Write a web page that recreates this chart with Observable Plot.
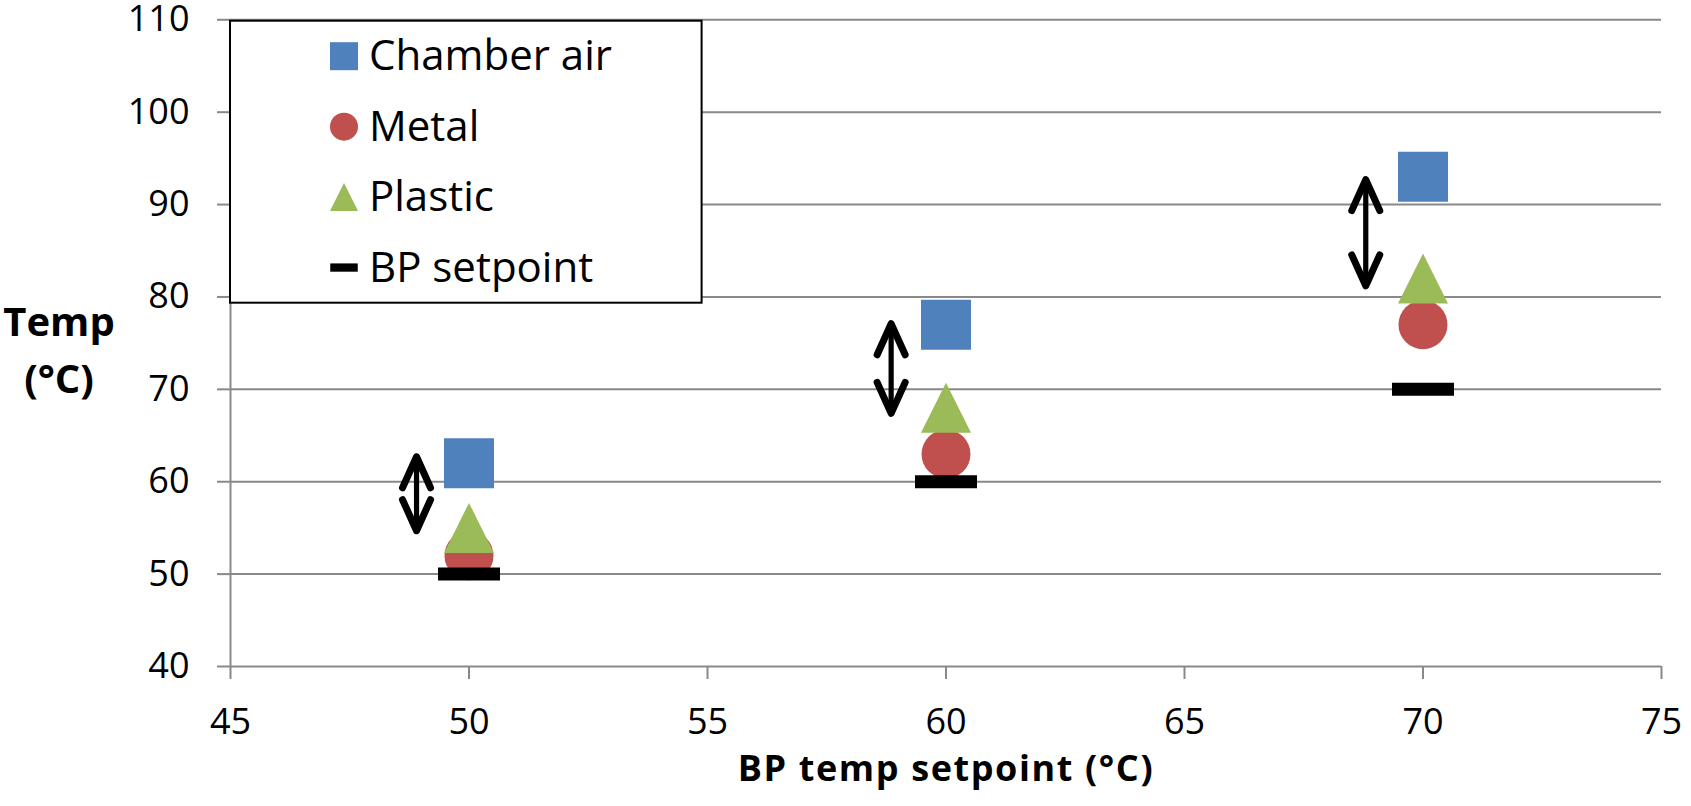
<!DOCTYPE html>
<html><head><meta charset="utf-8">
<script src="https://cdn.jsdelivr.net/npm/d3@7"></script>
<script src="https://cdn.jsdelivr.net/npm/@observablehq/plot@0.6"></script>
<style>
html,body{margin:0;padding:0;background:#fff;}
#wrap{position:relative;width:1691px;height:806px;}
#wrap svg{display:block;}
</style></head><body><div id="wrap"></div>
<script>
// ---- data ----
const setpoints = [50, 60, 70];
const chamberAir = [62, 77, 93];
const metal = [52, 63, 77];
const plastic = [55, 68, 82];
const bpSetpoint = [50, 60, 70];
const arrowX = [48.9, 58.85, 68.8];
const arrowTop = [62.7, 77.1, 92.7];
const arrowBottom = [54.7, 67.4, 81.2];
const xTicks = [45, 50, 55, 60, 65, 70, 75];
const yTicks = [40, 50, 60, 70, 80, 90, 100, 110];
const seriesNames = ["Chamber air", "Metal", "Plastic", "BP setpoint"];
const xTitle = "BP temp setpoint (°C)";
const yTitle = "Temp\n(°C)";

// ---- styles ----
const colors = ["#4F81BD", "#C0504D", "#9BBB59", "#000000"];
const GRID = "#898989";
const FONT = "'Open Sans', sans-serif";

const shapes = {
  square: (w) => ({draw(c) { c.rect(-w / 2, -w / 2, w, w); }}),
  circle: (w) => ({draw(c) { c.moveTo(w / 2, 0); c.arc(0, 0, w / 2, 0, 2 * Math.PI); }}),
  triangle: (w, h) => ({draw(c) { c.moveTo(0, -h / 2); c.lineTo(w / 2, h / 2); c.lineTo(-w / 2, h / 2); c.closePath(); }}),
  dash: (w, h) => ({draw(c) { c.rect(-w / 2, -h / 2, w, h); }}),
  chevronUp: ({draw(c) { c.moveTo(-14, 31); c.lineTo(0, 0); c.lineTo(14, 31); }}),
  chevronDown: ({draw(c) { c.moveTo(-14, -31); c.lineTo(0, 0); c.lineTo(14, -31); }})
};
const plotSymbols = [shapes.square(50), shapes.circle(49), shapes.triangle(50, 50), shapes.dash(62, 13)];
const legendSymbols = [shapes.square(28), shapes.circle(28), shapes.triangle(28, 28), shapes.dash(27.5, 8.3)];

const seriesValues = [chamberAir, metal, plastic, bpSetpoint];
const seriesRows = seriesValues.map((vals) => setpoints.map((x, i) => ({x, y: vals[i]})));
const arrows = arrowX.map((x, i) => ({x, top: arrowTop[i], bottom: arrowBottom[i]}));

const dotsFor = (k) => Plot.dot(seriesRows[k], {x: "x", y: "y", symbol: plotSymbols[k], fill: colors[k], stroke: "none"});

const chart = Plot.plot({
  width: 1691,
  height: 806,
  marginLeft: 230,
  marginRight: 30,
  marginTop: 19.3,
  marginBottom: 140,
  x: {domain: [45, 75]},
  y: {domain: [40, 110]},
  style: {fontFamily: FONT, fontSize: "36px", color: "black", background: "white", overflow: "visible"},
  marks: [
    Plot.gridY(yTicks, {stroke: GRID, strokeOpacity: 1, strokeWidth: 2}),
    Plot.ruleX([45], {stroke: GRID, strokeWidth: 2}),
    Plot.axisX(xTicks, {tickSize: 13, tickPadding: 29, stroke: GRID, strokeWidth: 2, fill: "black", fontSize: 36, label: null}),
    Plot.axisY(yTicks, {tickSize: 13, tickPadding: 28, stroke: GRID, strokeWidth: 2, fill: "black", fontSize: 36, label: null}),
    dotsFor(1),
    dotsFor(2),
    dotsFor(3),
    dotsFor(0),
    Plot.ruleX(arrows, {x: "x", y1: "bottom", y2: "top", stroke: "black", strokeWidth: 5.2, strokeLinecap: "round"}),
    Plot.dot(arrows, {x: "x", y: "top", symbol: shapes.chevronUp, fill: "none", stroke: "black", strokeWidth: 7, strokeLinecap: "round", strokeLinejoin: "round"}),
    Plot.dot(arrows, {x: "x", y: "bottom", symbol: shapes.chevronDown, fill: "none", stroke: "black", strokeWidth: 7, strokeLinecap: "round", strokeLinejoin: "round"}),
    Plot.text([xTitle], {text: (d) => d, frameAnchor: "bottom", dy: 114.5, fontSize: 36, fontWeight: "bold", fill: "black"}),
    Plot.text([yTitle], {text: (d) => d, frameAnchor: "left", dx: -171.5, dy: 3, fontSize: 40, fontWeight: "bold", lineHeight: 1.417, textAnchor: "middle", fill: "black"})
  ]
});
document.getElementById("wrap").appendChild(chart);

// widen the x title slightly to match the reference
d3.select(chart).selectAll("text").filter(function () { return this.textContent === xTitle; })
  .style("letter-spacing", "1.6px");

// ---- legend overlay ----
const legend = d3.create("svg")
  .attr("width", 1691).attr("height", 806)
  .style("position", "absolute").style("left", "0px").style("top", "0px")
  .style("pointer-events", "none");
legend.append("rect")
  .attr("x", 230).attr("y", 20.7).attr("width", 471.6).attr("height", 282)
  .attr("fill", "white").attr("stroke", "black").attr("stroke-width", 2);
seriesNames.forEach((name, i) => {
  legend.append("path")
    .attr("transform", `translate(344,${56.2 + 70.45 * i})`)
    .attr("d", d3.symbol(legendSymbols[i], 1)())
    .attr("fill", colors[i]);
  legend.append("text")
    .attr("x", 369).attr("y", 70 + 70.55 * i)
    .attr("font-family", FONT).attr("font-size", 42).attr("fill", "black")
    .text(name);
});
document.getElementById("wrap").appendChild(legend.node());
</script>
</body></html>
